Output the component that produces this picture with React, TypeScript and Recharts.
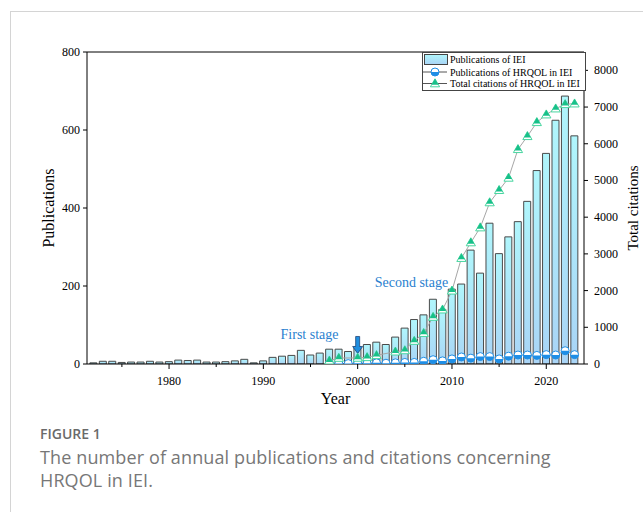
import React from "react";
import {
  ComposedChart,
  Bar,
  Line,
  XAxis,
  YAxis,
  Legend,
  ReferenceDot,
  ReferenceLine,
} from "recharts";

const years = [
  1972, 1973, 1974, 1975, 1976, 1977, 1978, 1979, 1980, 1981, 1982, 1983, 1984,
  1985, 1986, 1987, 1988, 1989, 1990, 1991, 1992, 1993, 1994, 1995, 1996, 1997,
  1998, 1999, 2000, 2001, 2002, 2003, 2004, 2005, 2006, 2007, 2008, 2009, 2010,
  2011, 2012, 2013, 2014, 2015, 2016, 2017, 2018, 2019, 2020, 2021, 2022, 2023,
];

// Publications of IEI (bars, left axis)
const ieiPublications = [
  3, 7, 7, 4, 5, 5, 7, 5, 6, 10, 9, 10, 5, 5, 6, 8, 12, 3, 8, 17, 20, 22, 35,
  23, 28, 38, 38, 32, 44, 50, 56, 50, 69, 92, 114, 126, 166, 140, 192, 205, 292,
  233, 361, 283, 326, 365, 417, 496, 540, 625, 687, 585,
];

// the two HRQOL series start in 1997
const hrqolStart = 1997;
const hrqolPublications = [
  1, 1, 1, 2, 2, 3, 2, 3, 4, 4, 7, 11, 8, 13, 18, 15, 19, 19, 13, 20, 23, 23,
  22, 24, 23, 34, 24,
];
const hrqolCitations = [
  90, 163, null, 165, 182, 237, null, 335, 370, 625, 840, 1280, 1480, 1995, 2884,
  3310, 3717, 4400, 4735, 5070, 5850, 6204, 6585, 6794, 6957, 7075, 7093,
];

const leftTicks = [0, 200, 400, 600, 800];
const rightTicks = [0, 1000, 2000, 3000, 4000, 5000, 6000, 7000, 8000];
const yearTicks = [1975, 1980, 1985, 1990, 1995, 2000, 2005, 2010, 2015, 2020];

const data = years.map((year, i) => {
  const j = year - hrqolStart;
  return {
    year,
    iei: ieiPublications[i],
    hrqol: j >= 0 ? hrqolPublications[j] : null,
    citations: j >= 0 ? hrqolCitations[j] : null,
  };
});

const SERIF = "'Liberation Serif', 'Times New Roman', serif";
const BLUE = "#1e8ee6";
const GREEN = "#17c089";
const GREEN_EDGE = "#48d6a0";

const YearTick = (props: any) => {
  const { x, y, payload } = props;
  const major = payload.value % 10 === 0;
  return (
    <g>
      <line x1={x} x2={x} y1={y} y2={y + (major ? 5 : 3)} stroke="#000" />
      {major && (
        <text x={x} y={y + 21} textAnchor="middle" fontSize={12} style={{ fontFamily: SERIF }} fill="#000">
          {payload.value}
        </text>
      )}
    </g>
  );
};

const LeftTick = (props: any) => {
  const { x, y, payload } = props;
  return (
    <g>
      <line x1={x} x2={x - 4} y1={y} y2={y} stroke="#000" />
      <text x={x - 7} y={y + 4} textAnchor="end" fontSize={12} style={{ fontFamily: SERIF }} fill="#000">
        {payload.value}
      </text>
    </g>
  );
};

const RightTick = (props: any) => {
  const { x, y, payload } = props;
  return (
    <g>
      <line x1={x} x2={x + 4} y1={y} y2={y} stroke="#000" />
      <text x={x + 10} y={y + 4} textAnchor="start" fontSize={12} style={{ fontFamily: SERIF }} fill="#000">
        {payload.value}
      </text>
    </g>
  );
};

const HalfCircle = (props: any) => {
  const { cx, cy } = props;
  if (cx == null || cy == null) return null;
  const r = 4;
  return (
    <g>
      <circle cx={cx} cy={cy} r={r} fill="#fff" stroke={BLUE} strokeWidth={1} />
      <path d={`M${cx - r},${cy} A${r},${r} 0 0 0 ${cx + r},${cy} Z`} fill={BLUE} />
    </g>
  );
};

const HalfTriangle = (props: any) => {
  const { cx, cy } = props;
  if (cx == null || cy == null) return null;
  return (
    <g>
      <polygon
        points={`${cx},${cy - 4.7} ${cx - 4.6},${cy + 3.3} ${cx + 4.6},${cy + 3.3}`}
        fill="#fff"
        stroke={GREEN_EDGE}
        strokeWidth={1}
      />
      <polygon
        points={`${cx},${cy - 4.7} ${cx - 3.4},${cy + 1.2} ${cx + 3.4},${cy + 1.2}`}
        fill={GREEN}
      />
    </g>
  );
};

const StageArrow = (props: any) => {
  const { cx, cy } = props;
  if (cx == null || cy == null) return null;
  const pts = [
    [cx - 2, cy - 17],
    [cx + 2, cy - 17],
    [cx + 2, cy - 7],
    [cx + 5, cy - 7],
    [cx, cy],
    [cx - 5, cy - 7],
    [cx - 2, cy - 7],
  ]
    .map((p) => p.join(","))
    .join(" ");
  return <polygon points={pts} fill="#1f8fe0" stroke="#21467a" strokeWidth={0.8} />;
};

const LegendBox = () => (
  <svg width={164} height={40} style={{ display: "block" }}>
    <rect x={0.5} y={0.5} width={163} height={38} fill="#fff" stroke="#444" />
    <rect x={2.5} y={2.5} width={23} height={10} fill="url(#barGrad)" stroke="#444" />
    <text x={28} y={10.5} fontSize={10} style={{ fontFamily: SERIF }} fill="#000">
      Publications of IEI
    </text>
    <line x1={1} x2={25} y1={20} y2={20} stroke="#555" />
    <HalfCircle cx={13} cy={20} />
    <text x={28} y={23.5} fontSize={10} style={{ fontFamily: SERIF }} fill="#000">
      Publications of HRQOL in IEI
    </text>
    <line x1={1} x2={25} y1={31.5} y2={31.5} stroke="#555" />
    <HalfTriangle cx={13} cy={31.5} />
    <text x={28} y={35} fontSize={10} style={{ fontFamily: SERIF }} fill="#000">
      Total citations of HRQOL in IEI
    </text>
  </svg>
);

export default function App() {
  return (
    <div style={{ position: "absolute", left: 0, top: 0, width: 643, height: 512, background: "#fff", overflow: "hidden" }}>
      <div
        style={{
          position: "absolute",
          left: 10,
          top: 11,
          width: 700,
          height: 600,
          borderLeft: "1px solid #d4d4d4",
          borderTop: "1px solid #d4d4d4",
        }}
      />
      <div style={{ position: "absolute", left: 0, top: 0 }}>
        <ComposedChart width={643} height={420} data={data} margin={{ top: 52, right: 0, bottom: 0, left: 0 }}>
          <defs>
            <linearGradient id="barGrad" x1="0" y1="0" x2="0" y2="1">
              <stop offset="0%" stopColor="#b0f6fc" />
              <stop offset="100%" stopColor="#a9d4f6" />
            </linearGradient>
          </defs>
          <XAxis
            dataKey="year"
            type="number"
            domain={[1971.3, 2024]}
            allowDataOverflow
            ticks={yearTicks}
            interval={0}
            height={56}
            tickSize={0}
            tickMargin={0}
            tick={<YearTick />}
            axisLine={{ stroke: "#000" }}
            label={(p: any) => {
              const vb = p.viewBox;
              return (
                <text x={vb.x + vb.width / 2} y={vb.y + 40} textAnchor="middle" fontSize={16} style={{ fontFamily: SERIF }} fill="#000">
                  Year
                </text>
              );
            }}
          />
          <YAxis
            yAxisId="left"
            orientation="left"
            width={87}
            domain={[0, 800]}
            allowDataOverflow
            ticks={leftTicks}
            interval={0}
            tickSize={0}
            tickMargin={0}
            tick={<LeftTick />}
            axisLine={{ stroke: "#000" }}
            label={(p: any) => {
              const vb = p.viewBox;
              const cx = vb.x + 48;
              const cy = vb.y + vb.height / 2;
              return (
                <text
                  x={cx}
                  y={cy}
                  transform={`rotate(-90 ${cx} ${cy})`}
                  textAnchor="middle"
                  dominantBaseline="central"
                  fontSize={16}
                  style={{ fontFamily: SERIF }}
                  fill="#000"
                >
                  Publications
                </text>
              );
            }}
          />
          <YAxis
            yAxisId="right"
            orientation="right"
            width={59}
            domain={[0, 8500]}
            allowDataOverflow
            ticks={rightTicks}
            interval={0}
            tickSize={0}
            tickMargin={0}
            tick={<RightTick />}
            axisLine={{ stroke: "#000" }}
            label={(p: any) => {
              const vb = p.viewBox;
              const cx = vb.x + 49;
              const cy = vb.y + vb.height / 2;
              return (
                <text
                  x={cx}
                  y={cy}
                  transform={`rotate(-90 ${cx} ${cy})`}
                  textAnchor="middle"
                  dominantBaseline="central"
                  fontSize={15}
                  style={{ fontFamily: SERIF }}
                  fill="#000"
                >
                  Total citations
                </text>
              );
            }}
          />
          <ReferenceLine yAxisId="left" y={800} stroke="#000" />
          <Bar
            yAxisId="left"
            dataKey="iei"
            name="Publications of IEI"
            barSize={7}
            fill="url(#barGrad)"
            stroke="#4a4a4a"
            strokeWidth={1}
            isAnimationActive={false}
          />
          <Line
            yAxisId="left"
            dataKey="hrqol"
            name="Publications of HRQOL in IEI"
            stroke="#a6a6a6"
            strokeWidth={1}
            dot={<HalfCircle />}
            activeDot={false}
            connectNulls
            isAnimationActive={false}
          />
          <Line
            yAxisId="right"
            dataKey="citations"
            name="Total citations of HRQOL in IEI"
            stroke="#a6a6a6"
            strokeWidth={1}
            dot={<HalfTriangle />}
            activeDot={false}
            connectNulls
            isAnimationActive={false}
          />
          <ReferenceDot
            yAxisId="left"
            x={1994.9}
            y={77}
            r={0}
            label={{ value: "First stage", position: "center", fill: "#2a7fcf", fontSize: 14, fontFamily: SERIF }}
          />
          <ReferenceDot
            yAxisId="left"
            x={2005.7}
            y={210}
            r={0}
            label={{ value: "Second stage", position: "center", fill: "#2a7fcf", fontSize: 14, fontFamily: SERIF }}
          />
          <ReferenceDot yAxisId="left" x={2000} y={27} shape={<StageArrow />} />
          <Legend
            layout="horizontal"
            verticalAlign="middle"
            align="center"
            content={<LegendBox />}
            wrapperStyle={{ top: 52, left: 422, width: 164, height: 40 }}
          />
        </ComposedChart>
      </div>
      <div
        style={{
          position: "absolute",
          left: 40,
          top: 424,
          fontFamily: "'Open Sans', sans-serif",
          fontSize: 14,
          fontWeight: 600,
          color: "#6a6a6a",
        }}
      >
        FIGURE 1
      </div>
      <div
        style={{
          position: "absolute",
          left: 40,
          top: 446,
          fontFamily: "'Open Sans', sans-serif",
          fontSize: 18,
          letterSpacing: 0.12,
          lineHeight: "23px",
          color: "#777",
          whiteSpace: "nowrap",
        }}
      >
        The number of annual publications and citations concerning
        <br />
        HRQOL in IEI.
      </div>
    </div>
  );
}
